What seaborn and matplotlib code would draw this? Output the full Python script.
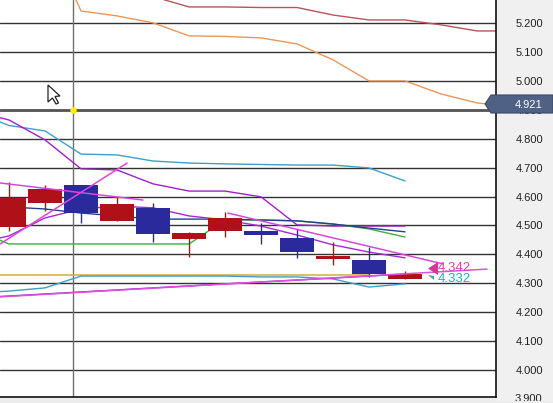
import matplotlib
matplotlib.use("Agg")
import matplotlib.pyplot as plt
from matplotlib.patches import Polygon, Rectangle
from matplotlib.transforms import Affine2D
import numpy as np
import pandas as pd
import seaborn as sns

# candles: index 0..11
opens = [4.595, 4.626, 4.543, 4.574, 4.471, 4.474, 4.526, 4.467, 4.408, 4.394, 4.332, 4.332]
closes = [4.495, 4.578, 4.640, 4.516, 4.561, 4.453, 4.481, 4.481, 4.457, 4.384, 4.381, 4.315]
highs = [4.650, 4.640, 4.640, 4.599, 4.578, 4.476, 4.547, 4.509, 4.488, 4.443, 4.426, 4.343]
lows = [4.481, 4.550, 4.509, 4.516, 4.443, 4.391, 4.460, 4.436, 4.388, 4.363, 4.322, 4.315]
candle_colors = ["#b01018", "#b01018", "#2a2a9c", "#b01018", "#2a2a9c", "#b01018",
                 "#b01018", "#2a2a9c", "#2a2a9c", "#b01018", "#2a2a9c", "#b01018"]

# indicator lines
orange_x = [1, 2, 3, 4, 5, 6, 7, 8, 9, 10, 11, 12, 13, 14]
orange_y = [5.52, 5.242, 5.225, 5.201, 5.156, 5.154, 5.149, 5.128, 5.073, 5.000, 5.000, 4.955, 4.924, 4.91]
brown_x = [3, 4, 5, 6, 7, 8, 9, 10, 11, 12, 13, 14]
brown_y = [5.33, 5.292, 5.256, 5.256, 5.254, 5.254, 5.228, 5.211, 5.211, 5.194, 5.173, 5.173]
blue_x = [-1, 0, 1, 2, 3, 4, 5, 6, 7, 8, 9, 10, 11]
blue_y = [4.894, 4.846, 4.827, 4.747, 4.744, 4.723, 4.716, 4.713, 4.711, 4.709, 4.709, 4.699, 4.654]
purple_x = [-1, 0, 1, 2, 3, 4, 5, 6, 7, 8, 9, 10, 11]
purple_y = [4.896, 4.865, 4.796, 4.696, 4.692, 4.644, 4.619, 4.619, 4.599, 4.502, 4.498, 4.498, 4.498]
green_x = [-1, 0, 1, 2, 3, 4, 5, 6, 7, 8, 9, 10, 11]
green_y = [4.488, 4.436, 4.436, 4.436, 4.436, 4.436, 4.436, 4.519, 4.519, 4.516, 4.505, 4.488, 4.460]
navy_x = [0, 1, 2, 3, 4, 5, 6, 7, 8, 9, 10, 11]
navy_y = [4.564, 4.557, 4.543, 4.533, 4.522, 4.522, 4.522, 4.519, 4.516, 4.505, 4.491, 4.478]
mid_x = [-1, 0, 1, 2, 3, 4, 5, 6, 7, 8, 9, 10, 11]
mid_y = [4.436, 4.464, 4.526, 4.557, 4.567, 4.561, 4.533, 4.519, 4.498, 4.467, 4.433, 4.408, 4.388]
yellow_x = [-1, 10]
yellow_y = [4.329, 4.329]
teal_x = [-1, 0, 1, 2, 3, 4, 5, 6, 7, 8, 9, 10, 11]
teal_y = [4.266, 4.273, 4.284, 4.325, 4.325, 4.325, 4.325, 4.325, 4.322, 4.322, 4.315, 4.287, 4.298]
low_x = [-1, 6, 8, 10, 11]
low_y = [4.249, 4.298, 4.311, 4.325, 4.332]
trend1_x = [-0.25, 3.72]
trend1_y = [4.647, 4.588]
trend2_x = [-0.25, 3.28]
trend2_y = [4.436, 4.716]
trend3_x = [6.08, 12.06]
trend3_y = [4.543, 4.367]
trend4_x = [-0.25, 13.28]
trend4_y = [4.253, 4.349]

price_ticks = [4.0, 4.1, 4.2, 4.3, 4.4, 4.5, 4.6, 4.7, 4.8, 4.9, 5.0, 5.1, 5.2]
tick_labels = ["4.000", "4.100", "4.200", "4.300", "4.400", "4.500",
               "4.600", "4.700", "4.800", "4.900", "5.000", "5.100", "5.200"]
clipped_label = "3.900"
cross_x = 1.79
cross_y = 4.9
last_price = "4.921"
label_a = "4.342"
label_b = "4.332"

sns.set_theme(style="white")
plt.rcParams["font.family"] = ["Liberation Sans", "DejaVu Sans"]

W, H = 553, 403
fig = plt.figure(figsize=(W / 100, H / 100), dpi=100, facecolor="#f0f0f0")
ax = fig.add_axes([0, 1 - 397 / H, 496 / W, 397 / H], facecolor="white")

ax.set_yticks(price_ticks)
ax.set_yticklabels(tick_labels)
ax.yaxis.tick_right()
ax.tick_params(axis="y", length=0, pad=14, labelsize=8, colors="#222222")
ax.set_xticks([])
for side in ("top", "left"):
    ax.spines[side].set_visible(False)
for side in ("right", "bottom"):
    ax.spines[side].set_visible(True)
    ax.spines[side].set_color("#111111")
    ax.spines[side].set_linewidth(1.2)

for v in price_ticks:
    ax.axhline(v, color="#333333", lw=1.0, zorder=1)
ax.axhline(cross_y, color="#555555", lw=2.0, zorder=1.5)
ax.axvline(cross_x, color="#707070", lw=1.0, zorder=1.5)

# candles
xs = np.arange(len(opens))
tops = np.maximum(opens, closes)
bots = np.minimum(opens, closes)
ax.vlines(xs, lows, highs, colors=candle_colors, lw=1.0, zorder=3)
ax.bar(xs, tops - bots, bottom=bots, width=0.95, color=candle_colors, linewidth=0, zorder=4)

# (x, y, colour, width, zorder): moving averages sit behind the candles, trend lines on top
series = [
    (orange_x, orange_y, "#e8975a", 1.0, 2),
    (brown_x, brown_y, "#b8545c", 1.0, 2),
    (blue_x, blue_y, "#3f9fc8", 1.0, 2),
    (purple_x, purple_y, "#a020c8", 1.0, 2),
    (green_x, green_y, "#3cb03c", 1.0, 2),
    (navy_x, navy_y, "#24408c", 1.0, 2),
    (mid_x, mid_y, "#a828d0", 1.0, 2),
    (yellow_x, yellow_y, "#d8a840", 1.1, 2),
    (teal_x, teal_y, "#3f9fc8", 1.0, 2),
    (low_x, low_y, "#8a20b0", 1.0, 2),
    (trend1_x, trend1_y, "#d848d8", 1.1, 5),
    (trend2_x, trend2_y, "#d848d8", 1.1, 5),
    (trend3_x, trend3_y, "#d848d8", 1.1, 5),
    (trend4_x, trend4_y, "#e050e0", 1.1, 5),
]
for x, y, c, lw, z in series:
    df = pd.DataFrame({"x": x, "y": y})
    sns.lineplot(data=df, x="x", y="y", color=c, lw=lw, ax=ax, estimator=None,
                 sort=False, zorder=z, legend=False)

sns.scatterplot(x=[cross_x], y=[cross_y], color="#ffee00", s=22, linewidth=0, ax=ax,
                zorder=6, legend=False)
ax.set_xlabel("")
ax.set_ylabel("")
ax.set_xlim(-0.25, 13.528)
ax.set_ylim(3.9066, 5.280)

# pixel-space overlays (decoration)
px = Affine2D().scale(1 / W, -1 / H).translate(0, 1) + fig.transFigure
fig.add_artist(Polygon([(485, 104), (491, 95), (553, 95), (553, 113), (491, 113)],
                       closed=True, transform=px, facecolor="#4f6184",
                       edgecolor="#3a4a6c", lw=0.8, zorder=8))
fig.text(529, 105, last_price, transform=px, color="white", fontsize=8,
         ha="center", va="center", zorder=9)
fig.text(515, 399, clipped_label, transform=px, color="#222222", fontsize=8,
         ha="left", va="center", zorder=7)
fig.add_artist(Polygon([(428, 268.5), (438, 262), (438, 275)], closed=True, transform=px,
                       facecolor="#e0309a", edgecolor="none", zorder=8))
fig.add_artist(Polygon([(428, 275), (434, 280), (434, 276)], closed=True, transform=px,
                       facecolor="#30a8c0", edgecolor="none", zorder=8))
fig.text(438, 268, label_a, transform=px, color="#d84898", fontsize=9.5, ha="left",
         va="center", zorder=9)
fig.text(438, 279, label_b, transform=px, color="#30a8c0", fontsize=9.5, ha="left",
         va="center", zorder=9)
fig.add_artist(Polygon([(48, 85), (48, 102), (52.5, 98), (56, 104), (58.5, 103), (55, 96.5), (60, 96)],
                       closed=True, transform=px, facecolor="white", edgecolor="#222222",
                       lw=0.9, zorder=8))
fig.add_artist(Rectangle((0, 397.7), 496, 6, transform=px, facecolor="#ececec",
                         edgecolor="none", zorder=10))
fig.add_artist(Rectangle((496, 401), 57, 2, transform=px, facecolor="#ececec",
                         edgecolor="none", zorder=10))

fig.savefig("out.png", dpi=100, facecolor=fig.get_facecolor())
